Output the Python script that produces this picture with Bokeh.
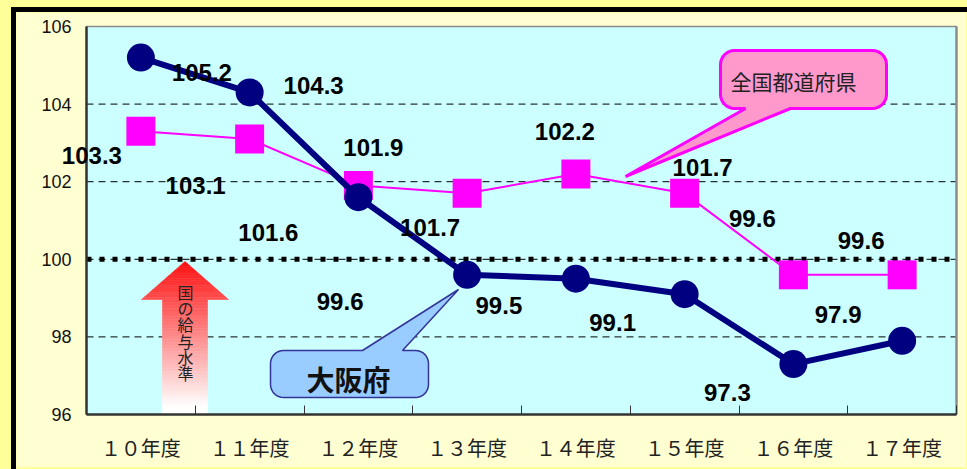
import math
from bokeh.plotting import figure
from bokeh.models import (Range1d, FixedTicker, Label, GlobalInlineStyleSheet,
                          ColumnDataSource)
from bokeh.core.properties import value
from bokeh.embed import file_html
from bokeh.resources import INLINE

# ---------------- data ----------------
categories = ["１０年度", "１１年度", "１２年度", "１３年度",
              "１４年度", "１５年度", "１６年度", "１７年度"]
osaka = [105.2, 104.3, 101.6, 99.6, 99.5, 99.1, 97.3, 97.9]
zenkoku = [103.3, 103.1, 101.9, 101.7, 102.2, 101.7, 99.6, 99.6]
y_ticks = [96, 98, 100, 102, 104, 106]
national_level = 100
osaka_name = "大阪府"
zenkoku_name = "全国都道府県"
arrow_text = "国の給与水準"

# label placement (screen pixel offsets, right / down)
osaka_dx = [61, 64, -90, -127, -77, -72, -66, -64]
osaka_dy = [15, -7, 35, 27, 27, 28, 28, -26]
zen_dx = [-49, -54, 15, -37, -11, 18, -41, -41]
zen_dy = [24, 46, -38, 34, -42, -26, -56, -34]

# ---------------- layout (page pixels) ----------------
OX, OY = 16, 12                    # canvas origin on the page
PL, PT, PR, PB = 86, 26, 956, 414  # plotting area
CW, CH = 950, 455
N = len(categories)
Y0, Y1 = 96, 106
UX = (PR - PL) / N
UY = (PB - PT) / (Y1 - Y0)


def X(px):
    return (px - PL) / UX


def Y(py):
    return Y1 - (py - PT) / UY


css = ("html{background:#FFFF99;}"
       "body{background:#FFFF99;margin:7px 0 0 11px;padding:0;"
       "border-left:5px solid #000;border-top:5px solid #000;}")

# the frame covers the whole canvas; axes are placed at fixed locations
p = figure(frame_width=CW, frame_height=CH,
           x_range=Range1d(X(OX), X(OX + CW)),
           y_range=Range1d(Y(OY + CH), Y(OY)),
           output_backend="svg", toolbar_location=None,
           min_border_left=0, min_border_top=0,
           min_border_right=0, min_border_bottom=0)
p.stylesheets = [GlobalInlineStyleSheet(css=css)]
p.background_fill_color = "#FFFFD2"
p.border_fill_color = "#FFFFD2"
p.outline_line_color = None
p.xgrid.grid_line_color = None
p.ygrid.grid_line_color = None

xs = [i + 0.5 for i in range(N)]

# plotting area background and dashed grid
p.quad(left=[0], right=[N], bottom=[Y0], top=[Y1], fill_color="#CCFFFF",
       line_color=None)
p.segment(x0=[0] * len(y_ticks), x1=[N] * len(y_ticks), y0=y_ticks, y1=y_ticks,
          line_color="black", line_width=1, line_dash="7 5")
p.segment(x0=[0], x1=[N], y0=[Y1], y1=[Y1], line_color="#8C8C8C", line_width=1.5)
p.segment(x0=[N], x1=[N], y0=[Y0], y1=[Y1], line_color="#8C8C8C", line_width=2.5)

# axes
p.xaxis.fixed_location = Y0
p.xaxis.bounds = (0, N)
p.xaxis.ticker = FixedTicker(ticks=xs, minor_ticks=list(range(N + 1)))
p.xaxis.major_label_overrides = {x: c for x, c in zip(xs, categories)}
p.xaxis.major_tick_line_color = None
p.xaxis.minor_tick_in = 9
p.xaxis.minor_tick_out = 0
p.xaxis.minor_tick_line_color = "#333333"
p.xaxis.minor_tick_line_width = 1
p.xaxis.axis_line_color = "#333333"
p.xaxis.axis_line_width = 2.5
p.xaxis.major_label_text_font = "Noto Sans CJK JP"
p.xaxis.major_label_text_font_size = "20px"
p.xaxis.major_label_text_color = "#222222"
p.xaxis.major_label_standoff = 12

p.yaxis.fixed_location = 0
p.yaxis.bounds = (Y0, Y1)
p.yaxis.ticker = FixedTicker(ticks=y_ticks, minor_ticks=[])
p.yaxis.major_tick_line_color = None
p.yaxis.minor_tick_line_color = None
p.yaxis.major_tick_out = 0
p.yaxis.axis_line_color = "#333333"
p.yaxis.axis_line_width = 2.5
p.yaxis.major_label_text_font = "Liberation Sans"
p.yaxis.major_label_text_font_size = "18px"
p.yaxis.major_label_text_color = "#111111"
p.yaxis.major_label_standoff = 15

# ---------------- gradient arrow (national level) ----------------
tip_y, head_y, bot_y = 261, 299, 414
cx, head_hw, shaft_hw = 184.5, 43.5, 22.5
a_xs, a_ys, a_cols = [], [], []


def col_at(py):
    f = min(1.0, max(0.0, (py - tip_y) / (bot_y - 8 - tip_y)))
    g = int(16 + f * (255 - 16))
    return "#%02X%02X%02X" % (255, g, g)


nh, ns = 16, 40
for k in range(nh):
    ya = tip_y + (head_y - tip_y) * k / nh
    yb = tip_y + (head_y - tip_y) * (k + 1) / nh
    wa = head_hw * (ya - tip_y) / (head_y - tip_y)
    wb = head_hw * (yb - tip_y) / (head_y - tip_y)
    a_xs.append([X(cx - wa), X(cx + wa), X(cx + wb), X(cx - wb)])
    a_ys.append([Y(ya), Y(ya), Y(yb), Y(yb)])
    a_cols.append(col_at((ya + yb) / 2))
for k in range(ns):
    ya = head_y + (bot_y - head_y) * k / ns
    yb = head_y + (bot_y - head_y) * (k + 1) / ns
    a_xs.append([X(cx - shaft_hw), X(cx + shaft_hw), X(cx + shaft_hw), X(cx - shaft_hw)])
    a_ys.append([Y(ya), Y(ya), Y(yb), Y(yb)])
    a_cols.append(col_at((ya + yb) / 2))
p.patches(a_xs, a_ys, fill_color=a_cols, line_color=a_cols, line_width=0.6)
p.text(x=[X(185)], y=[Y(332)], text=["\n".join(arrow_text)],
       text_font=value("Noto Sans CJK JP"), text_font_size="16px",
       text_color="#222222", text_align="center", text_baseline="middle",
       text_line_height=0.68)

# national level line
p.line([0, N], [national_level, national_level], line_color="black",
       line_width=5, line_dash="5 8")


# ---------------- callouts ----------------
def callout(x0, y0, x1, y1, r, side, ba, bb, tip):
    pts = []

    def arc(ccx, ccy, t0, t1, n=8):
        for j in range(n + 1):
            t = t0 + (t1 - t0) * j / n
            pts.append((ccx + r * math.cos(t), ccy + r * math.sin(t)))

    arc(x0 + r, y0 + r, math.pi, 1.5 * math.pi)
    if side == "top":
        pts += [(ba, y0), tip, (bb, y0)]
    arc(x1 - r, y0 + r, 1.5 * math.pi, 2 * math.pi)
    arc(x1 - r, y1 - r, 0, 0.5 * math.pi)
    if side == "bottom":
        pts += [(bb, y1), tip, (ba, y1)]
    arc(x0 + r, y1 - r, 0.5 * math.pi, math.pi)
    return [X(a) for a, b in pts], [Y(b) for a, b in pts]


bx, by = callout(270, 350, 428, 397, 13, "top", 362, 402, (458, 289))
p.patch(bx, by, fill_color="#99CCFF", line_color="#333399", line_width=1.5)
p.text(x=[X(348)], y=[Y(378)], text=[osaka_name],
       text_font=value("Noto Sans CJK JP"), text_font_size="28px",
       text_font_style="bold", text_color="#111111",
       text_align="center", text_baseline="middle")

zx, zy = callout(720, 50, 886, 108, 14, "bottom", 745, 790, (625, 176))
p.patch(zx, zy, fill_color="#FF99CC", line_color="#FF00FF", line_width=3)
p.text(x=[X(793)], y=[Y(80)], text=[zenkoku_name],
       text_font=value("Noto Sans CJK JP"), text_font_size="21px",
       text_color="#222222", text_align="center", text_baseline="middle")

# ---------------- series ----------------
zsrc = ColumnDataSource(dict(x=xs, y=zenkoku))
osrc = ColumnDataSource(dict(x=xs, y=osaka))

p.line("x", "y", source=zsrc, line_color="#FF00FF", line_width=2)
p.scatter("x", "y", source=zsrc, marker="square", size=29,
          fill_color="#FF00FF", line_color="#FF00FF", line_width=0)

p.line("x", "y", source=osrc, line_color="#000080", line_width=6)
p.scatter("x", "y", source=osrc, marker="circle", size=28,
          fill_color="#000080", line_color="#000080", line_width=0)

for vals, dxs, dys in ((zenkoku, zen_dx, zen_dy), (osaka, osaka_dx, osaka_dy)):
    for x, v, dx, dy in zip(xs, vals, dxs, dys):
        p.add_layout(Label(x=x, y=v, text=f"{v:.1f}", x_offset=dx, y_offset=-dy,
                           text_font="Liberation Sans", text_font_size="24px",
                           text_font_style="bold", text_color="black",
                           text_align="center", text_baseline="middle"))

open("out.html", "w").write(file_html(p, INLINE))
